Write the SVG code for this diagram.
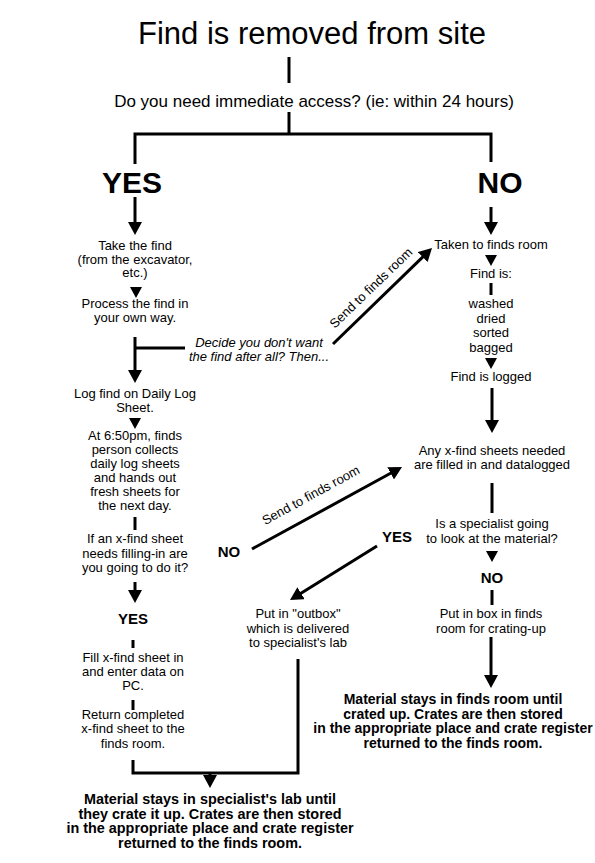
<svg xmlns="http://www.w3.org/2000/svg" xmlns:xlink="http://www.w3.org/1999/xlink" width="595" height="863" viewBox="0 0 595 863">
<style>
text{font-family:"Liberation Sans",Arial,Helvetica,sans-serif;fill:#000;text-anchor:middle}
.t{font-size:13px}
.q{font-size:17px}
.it{font-size:13px;font-style:italic}
.big{font-size:30px;font-weight:bold}
.sm{font-size:15px;font-weight:bold}
.fin{font-size:14px;font-weight:bold}
.finl{font-size:14.4px;font-weight:bold}
.title{font-size:31px}
.ln{stroke:#000;stroke-width:3;fill:none}
.ar{stroke:#000;stroke-width:3;fill:none;marker-end:url(#ah)}
</style>
<defs>
<marker id="ah" markerUnits="userSpaceOnUse" markerWidth="14" markerHeight="14" refX="1" refY="7" orient="auto">
<path d="M0,0 L13,7 L0,14 Z" fill="#000"/>
</marker>
<path id="tri" d="M-6,0 L6,0 L0,11 Z" fill="#000"/>
</defs>
<rect width="595" height="863" fill="#fff"/>

<g id="connectors">
<line class="ln" x1="289" y1="57" x2="289" y2="83"/>
<line class="ln" x1="289" y1="112" x2="289" y2="134"/>
<polyline class="ln" points="135,164 135,134 491,134 491,162"/>
<line class="ar" x1="135" y1="197" x2="135" y2="223"/>
<line class="ar" x1="491" y1="207" x2="491" y2="223"/>
<use xlink:href="#tri" x="136" y="287"/>
<line class="ar" x1="135" y1="337" x2="135" y2="371"/>
<line class="ln" x1="135" y1="348" x2="185" y2="348"/>
<line class="ar" x1="333" y1="344" x2="423.4" y2="256.4"/>
<use xlink:href="#tri" x="491" y="255"/>
<line class="ln" x1="491" y1="283" x2="491" y2="295"/>
<use xlink:href="#tri" x="491" y="358"/>
<line class="ar" x1="492" y1="388" x2="492" y2="421"/>
<line class="ln" x1="492" y1="483" x2="492" y2="513"/>
<use xlink:href="#tri" x="492" y="551"/>
<line class="ln" x1="492" y1="590" x2="492" y2="605"/>
<line class="ar" x1="491" y1="637" x2="491" y2="676"/>
<use xlink:href="#tri" x="135" y="418"/>
<line class="ln" x1="135" y1="517" x2="135" y2="530"/>
<line class="ar" x1="135" y1="582" x2="135" y2="591"/>
<line class="ln" x1="133" y1="640" x2="133" y2="648"/>
<line class="ln" x1="133" y1="700" x2="133" y2="710"/>
<polyline class="ln" points="133,760 133,773 298,773 298,659"/>
<line class="ar" x1="210" y1="772" x2="210" y2="776"/>
<line class="ar" x1="252" y1="549" x2="391.5" y2="472.8"/>
<line class="ar" x1="377" y1="546" x2="300.2" y2="593.7"/>
<text class="t" transform="translate(374,291) rotate(-44)">Send to finds room</text>
<text class="t" transform="translate(313,499) rotate(-28.7)">Send to finds room</text>
</g>

<g id="title"><text class="title" x="312" y="44">Find is removed from site</text></g>
<g id="question"><text class="q" x="314" y="107">Do you need immediate access? (ie: within 24 hours)</text></g>
<g id="yes-main"><text class="big" x="132" y="193">YES</text></g>
<g id="no-main"><text class="big" x="500" y="193">NO</text></g>

<g id="take-find"><text class="t" x="135" y="250">Take the find</text><text class="t" x="135" y="263.5">(from the excavator,</text><text class="t" x="135" y="277">etc.)</text></g>
<g id="process"><text class="t" x="135" y="308">Process the find in</text><text class="t" x="135" y="322">your own way.</text></g>
<g id="decide"><text class="it" x="259" y="347">Decide you don't want</text><text class="it" x="259" y="361">the find after all? Then...</text></g>
<g id="log-find"><text class="t" x="135" y="398">Log find on Daily Log</text><text class="t" x="135" y="412">Sheet.</text></g>
<g id="collect"><text class="t" x="135" y="440">At 6:50pm, finds</text><text class="t" x="135" y="454">person collects</text><text class="t" x="135" y="468">daily log sheets</text><text class="t" x="135" y="482">and hands out</text><text class="t" x="135" y="496">fresh sheets for</text><text class="t" x="135" y="510">the next day.</text></g>
<g id="xfind-q"><text class="t" x="135" y="543">If an x-find sheet</text><text class="t" x="135" y="557.5">needs filling-in are</text><text class="t" x="135" y="572">you going to do it?</text></g>
<g id="yes-left"><text class="sm" x="133" y="624">YES</text></g>
<g id="fill"><text class="t" x="133" y="662">Fill x-find sheet in</text><text class="t" x="133" y="676">and enter data on</text><text class="t" x="133" y="690">PC.</text></g>
<g id="return"><text class="t" x="133" y="719">Return completed</text><text class="t" x="133" y="733">x-find sheet to the</text><text class="t" x="133" y="748">finds room.</text></g>
<g id="final-lab"><text class="finl" x="210" y="804">Material stays in specialist's lab until</text><text class="finl" x="210" y="818.5">they crate it up. Crates are then stored</text><text class="finl" x="210" y="833">in the appropriate place and crate register</text><text class="finl" x="210" y="847.5">returned to the finds room.</text></g>

<g id="no-mid"><text class="sm" x="229" y="557">NO</text></g>
<g id="yes-mid"><text class="sm" x="397" y="542">YES</text></g>
<g id="outbox"><text class="t" x="298" y="618">Put in "outbox"</text><text class="t" x="298" y="632.5">which is delivered</text><text class="t" x="298" y="647">to specialist's lab</text></g>

<g id="taken"><text class="t" x="491" y="249">Taken to finds room</text></g>
<g id="find-is"><text class="t" x="491" y="278">Find is:</text></g>
<g id="washed"><text class="t" x="491" y="308">washed</text><text class="t" x="491" y="322.5">dried</text><text class="t" x="491" y="337">sorted</text><text class="t" x="491" y="351.5">bagged</text></g>
<g id="logged"><text class="t" x="491" y="381">Find is logged</text></g>
<g id="any-xfind"><text class="t" x="492" y="455">Any x-find sheets needed</text><text class="t" x="492" y="469">are filled in and datalogged</text></g>
<g id="specialist-q"><text class="t" x="492" y="528">Is a specialist going</text><text class="t" x="492" y="543">to look at the material?</text></g>
<g id="no-right"><text class="sm" x="492" y="583">NO</text></g>
<g id="box"><text class="t" x="491" y="618">Put in box in finds</text><text class="t" x="491" y="633">room for crating-up</text></g>
<g id="final-room"><text class="fin" x="453" y="704">Material stays in finds room until</text><text class="fin" x="453" y="718.5">crated up. Crates are then stored</text><text class="fin" x="453" y="733">in the appropriate place and crate register</text><text class="fin" x="453" y="747.5">returned to the finds room.</text></g>
</svg>
